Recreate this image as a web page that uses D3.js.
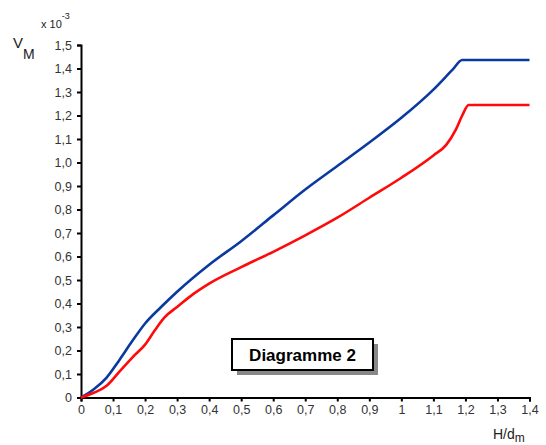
<!DOCTYPE html>
<html><head><meta charset="utf-8">
<script src="https://cdn.jsdelivr.net/npm/d3@7"></script>
<style>
html,body{margin:0;padding:0;background:#fff;}
svg{display:block;font-family:"Liberation Sans",Arial,sans-serif;}
</style></head>
<body><svg id="c" width="546" height="445"></svg>
<script>
const xTicks = [0,0.1,0.2,0.3,0.4,0.5,0.6,0.7,0.8,0.9,1,1.1,1.2,1.3,1.4];
const yTicks = [0,0.1,0.2,0.3,0.4,0.5,0.6,0.7,0.8,0.9,1.0,1.1,1.2,1.3,1.4,1.5];
const blueX = [0,0.04,0.08,0.12,0.16,0.2,0.25,0.3,0.4,0.5,0.6,0.7,0.8,0.9,1.0,1.1,1.16,1.19,1.4];
const blueY = [0,0.035,0.085,0.16,0.24,0.315,0.385,0.45,0.565,0.665,0.775,0.885,0.985,1.085,1.19,1.31,1.395,1.436,1.436];
const redX = [0,0.04,0.08,0.12,0.16,0.2,0.23,0.26,0.3,0.35,0.4,0.5,0.6,0.7,0.8,0.9,1.0,1.1,1.14,1.17,1.19,1.21,1.4];
const redY = [0,0.02,0.05,0.11,0.17,0.225,0.285,0.34,0.385,0.44,0.485,0.555,0.62,0.69,0.765,0.85,0.935,1.03,1.075,1.14,1.2,1.245,1.245];
const title = "Diagramme 2";

const svg = d3.select("#c");
const x = d3.scaleLinear().domain([0,1.4]).range([81,529.5]);
const y = d3.scaleLinear().domain([0,1.5]).range([397.5,45]);
const fmtX = d => d===0 ? "0" : (d===1 ? "1" : d3.format(".1f")(d).replace(".", ","));
const fmtY = d => d===0 ? "0" : d3.format(".1f")(d).replace(".", ",");

const xa = svg.append("g").attr("transform","translate(0,397.5)")
  .call(d3.axisBottom(x).tickValues(xTicks).tickFormat(fmtX).tickSize(4).tickSizeOuter(4).tickPadding(4));
const ya = svg.append("g").attr("transform","translate(81,0)")
  .call(d3.axisLeft(y).tickValues(yTicks).tickFormat(fmtY).tickSize(4).tickSizeOuter(4).tickPadding(5));
[xa,ya].forEach(a=>{
  a.selectAll("path,line").attr("stroke","#000").attr("stroke-width",2);
  a.selectAll("text").attr("font-size",12.5).attr("fill","#333").attr("font-family","'Liberation Sans',Arial,sans-serif");
});

const line = d3.line().x(d=>x(d[0])).y(d=>y(d[1])).curve(d3.curveMonotoneX);
svg.append("path").datum(blueX.map((v,i)=>[v,blueY[i]]))
  .attr("d",line).attr("fill","none").attr("stroke","#0a3aa0").attr("stroke-width",2.6);
svg.append("path").datum(redX.map((v,i)=>[v,redY[i]]))
  .attr("d",line).attr("fill","none").attr("stroke","#ff0a0a").attr("stroke-width",2.6);

// y label V_M
const vl = svg.append("text").attr("x",13).attr("y",48).attr("font-size",15).attr("fill","#222");
vl.append("tspan").text("V");
vl.append("tspan").attr("dy",11).attr("font-size",14).text("M");
// x 10^-3
const ml = svg.append("text").attr("x",41).attr("y",28).attr("font-size",11).attr("fill","#222");
ml.append("tspan").text("x 10");
ml.append("tspan").attr("dy",-9).attr("font-size",9).text("-3");
// x label H/d_m
const hl = svg.append("text").attr("x",493).attr("y",439).attr("font-size",14).attr("fill","#222");
hl.append("tspan").text("H/d");
hl.append("tspan").attr("dy",3).attr("font-size",12).text("m");

// title box with shadow
svg.append("rect").attr("x",237).attr("y",344).attr("width",141).attr("height",31).attr("fill","#888");
svg.append("rect").attr("x",232).attr("y",339).attr("width",141).attr("height",31).attr("fill","#fff").attr("stroke","#000").attr("stroke-width",2);
svg.append("text").attr("x",302.5).attr("y",361).attr("text-anchor","middle")
  .attr("font-size",17).attr("font-weight","bold").attr("fill","#000").text(title);
</script></body></html>
